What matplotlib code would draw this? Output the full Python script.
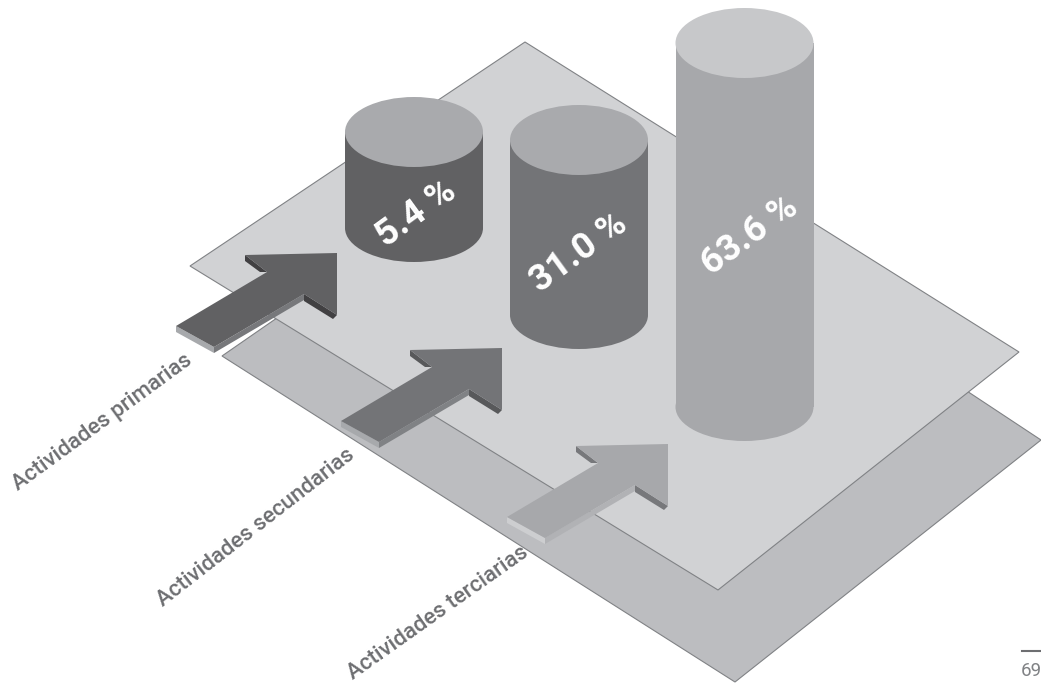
import matplotlib
matplotlib.use("Agg")
import matplotlib.pyplot as plt
from matplotlib.patches import Polygon, Ellipse, Rectangle
from matplotlib.lines import Line2D

# --- data ---
categories = ["Actividades primarias", "Actividades secundarias", "Actividades terciarias"]
values = [5.4, 31.0, 63.6]
page_number = "69"

# --- drawing geometry (pixels of the 1041x684 canvas) ---
W, H = 1041, 684
cyl_cx = [414, 579, 744.5]
cyl_top = [132, 140, 43]
cyl_bottom = [228, 315, 407]
cyl_rx, cyl_ry = 69, 35
cyl_side = ["#616163", "#737477", "#a7a8ab"]
cyl_cap = ["#a9aaad", "#a9aaad", "#c7c8ca"]

arrow_offset = [(0, 0), (165, 95), (331, 191)]
arrow_top = ["#616163", "#737477", "#a7a8ab"]
arrow_tail = ["#a7a9ac", "#a7a9ac", "#cdced0"]
arrow_wing = ["#414042", "#58595b", "#77787b"]
arrow_edge = ["#77787b", "#808285", "#b1b2b5"]

label_anchor = [(18, 491), (163, 607), (353, 679.5)]
label_angle = [36.2, 37.9, 35.3]
pct_center = [(416, 214), (579, 252), (750, 236)]
pct_size = [26.5, 26.5, 26.5]

plane_top = [(190, 266), (525, 42), (1019, 352), (718, 590)]
plane_low = [(222, 356), (560, 122), (1041, 440), (735, 682)]

fig = plt.figure(figsize=(W / 100, H / 100), dpi=100, facecolor="white")
ax = fig.add_axes([0, 0, 1, 1])
ax.set_xlim(0, W)
ax.set_ylim(H, 0)
ax.axis("off")

ax.add_patch(Polygon(plane_low, closed=True, fc="#bcbdc0", ec="#808285", lw=0.8, zorder=1))
ax.add_patch(Polygon(plane_top, closed=True, fc="#d1d2d4", ec="#808285", lw=0.8, zorder=2))

# cylinders
for i, v in enumerate(values):
    cx, t, b = cyl_cx[i], cyl_top[i], cyl_bottom[i]
    z = 3
    ax.add_patch(Ellipse((cx, b), 2 * cyl_rx, 2 * cyl_ry - 2, fc=cyl_side[i], ec="none", zorder=z))
    ax.add_patch(Rectangle((cx - cyl_rx, t), 2 * cyl_rx, b - t, fc=cyl_side[i], ec="none", zorder=z))
    ax.add_patch(Ellipse((cx, t), 2 * cyl_rx, 2 * cyl_ry, fc=cyl_cap[i], ec="none", zorder=z + 0.1))
    ax.text(*pct_center[i], f"{v:.1f} %", color="white", fontsize=pct_size[i], family="Roboto",
            weight="bold", rotation=36, rotation_mode="anchor", ha="center", va="center", zorder=5)

# arrows: one outline moved to each position
top_face = [(176, 326), (267, 272), (245, 255), (337, 253), (337, 315), (304, 294), (214, 347)]
tail_face = [(176, 326), (214, 347), (214, 353), (176, 332)]
shaft_side = [(214, 347), (304, 294), (304, 300), (214, 353)]
wing_right = [(304, 294), (337, 315), (333, 319), (304, 301)]
wing_left = [(245, 255), (267, 272), (260, 272), (245, 261)]


def moved(pts, d):
    return [(x + d[0], y + d[1]) for x, y in pts]


for i, d in enumerate(arrow_offset):
    ax.add_patch(Polygon(moved(tail_face, d), fc=arrow_tail[i], ec="none", zorder=6))
    ax.add_patch(Polygon(moved(shaft_side, d), fc=arrow_edge[i], ec="none", zorder=6))
    ax.add_patch(Polygon(moved(wing_right, d), fc=arrow_wing[i], ec="none", zorder=6))
    ax.add_patch(Polygon(moved(wing_left, d), fc=arrow_wing[i], ec="none", zorder=6))
    ax.add_patch(Polygon(moved(top_face, d), fc=arrow_top[i], ec="none", zorder=6.1))

# category labels
for name, xy, ang in zip(categories, label_anchor, label_angle):
    ax.text(*xy, name, color="#6d6e71", fontsize=16, family="Roboto", weight="medium",
            rotation=ang, rotation_mode="anchor", ha="left", va="baseline", zorder=7)

# page furniture
ax.add_line(Line2D([1022, W], [651, 651], color="#6d6e71", lw=1.5, zorder=7))
ax.text(1021, 676, page_number, color="#808285", fontsize=13.5, family="Roboto",
        ha="left", va="baseline", zorder=7)

fig.savefig("out.png", dpi=100, facecolor="white")
